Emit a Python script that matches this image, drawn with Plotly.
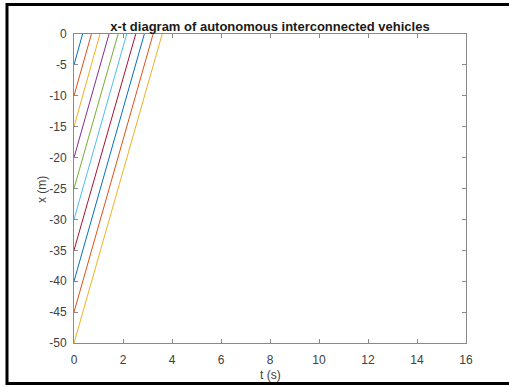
import plotly.graph_objects as go

# Vehicle start positions (m) at t = 0 and the time each reaches x = 0 (s)
start_pos = [-5, -10, -15, -20, -25, -30, -35, -40, -45, -50]
arrival_time = [0.35, 0.71, 1.06, 1.43, 1.80, 2.15, 2.52, 2.87, 3.23, 3.60]

# MATLAB default colour order, cycling
colors = ["#0072BD", "#D95319", "#EDB120", "#7E2F8E", "#77AC30",
          "#4DBEEE", "#A2142F", "#0072BD", "#D95319", "#EDB120"]

x_ticks = list(range(0, 17, 2))
y_ticks = list(range(-50, 1, 5))
y_tick_text = [str(v) for v in y_ticks]  # plain hyphen-minus labels

fig = go.Figure()
for x0, t1, c in zip(start_pos, arrival_time, colors):
    fig.add_trace(go.Scatter(x=[0, t1], y=[x0, 0], mode="lines",
                             line=dict(color=c, width=1), showlegend=False))

L, R, T, B = 74, 43, 34, 44
W, H = 509, 387
pw, ph = W - L - R, H - T - B

def px_x(px):
    return (px - L) / pw

def px_y(py):
    return (H - B - py) / ph

axis_common = dict(
    showgrid=False, zeroline=False, showline=True, linecolor="#8a8a8a",
    linewidth=1, mirror="ticks", ticks="inside", ticklen=4,
    tickcolor="#8a8a8a", tickfont=dict(size=12, color="#404040"),
    automargin=False,
)

label_font = dict(size=12, color="#404040")

fig.update_layout(
    width=W, height=H,
    margin=dict(l=L, r=R, t=T, b=B),
    paper_bgcolor="white", plot_bgcolor="white",
    font=dict(family="Liberation Sans, Arial, sans-serif", color="#262626"),
    title=dict(text="<b>x-t diagram of autonomous interconnected vehicles</b>",
               x=0.5, xref="paper", xanchor="center",
               y=1 - 26 / H, yanchor="middle",
               font=dict(size=13, color="#1a1a1a")),
    xaxis=dict(range=[0, 16], tickvals=x_ticks, ticklabelstandoff=6,
               **axis_common),
    yaxis=dict(range=[-50, 0], tickvals=y_ticks, ticktext=y_tick_text,
               ticklabelstandoff=4, **axis_common),
    annotations=[
        dict(text="t (s)", xref="paper", yref="paper", x=0.5, y=px_y(375),
             xanchor="center", yanchor="middle", showarrow=False,
             borderpad=0, font=label_font),
        dict(text="x (m)", xref="paper", yref="paper", x=px_x(42),
             y=px_y(190), xanchor="center", yanchor="middle",
             showarrow=False, textangle=-90, borderpad=0, font=label_font),
    ],
    shapes=[dict(type="rect", xref="paper", yref="paper",
                 x0=px_x(7), x1=px_x(530), y0=px_y(383.5), y1=px_y(4.5),
                 line=dict(color="black", width=3), layer="above")],
)

fig.write_html("out.html")
